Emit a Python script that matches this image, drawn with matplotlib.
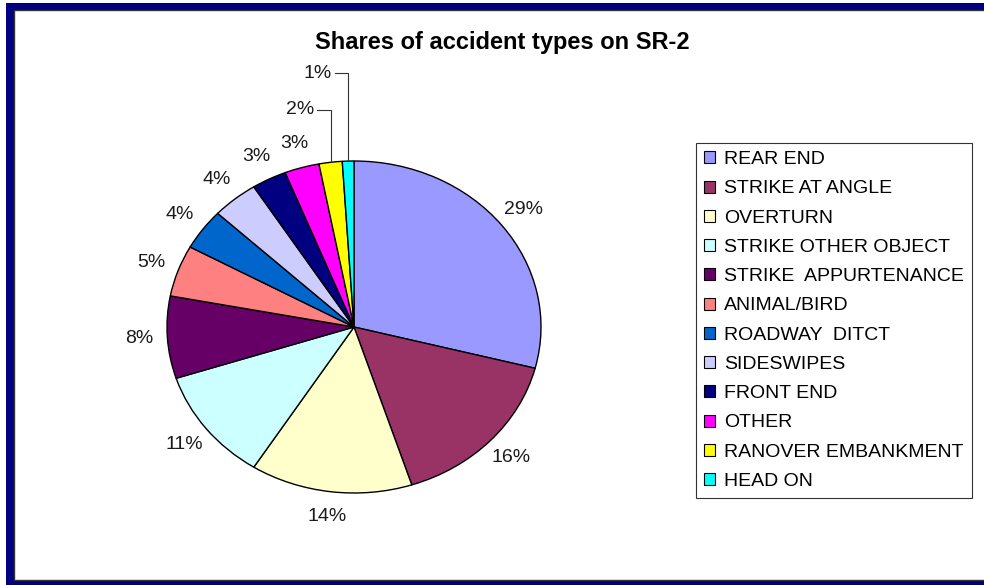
import numpy as np
import matplotlib
matplotlib.use("Agg")
import matplotlib.pyplot as plt
from matplotlib.patches import Rectangle, Patch

plt.rcParams['font.family'] = ['Liberation Sans', 'DejaVu Sans']

categories = ["REAR END", "STRIKE AT ANGLE", "OVERTURN", "STRIKE OTHER OBJECT",
              "STRIKE  APPURTENANCE", "ANIMAL/BIRD", "ROADWAY  DITCT", "SIDESWIPES",
              "FRONT END", "OTHER", "RANOVER EMBANKMENT", "HEAD ON"]
shares = [29, 16, 14, 11, 8, 5, 4, 4, 3, 3, 2, 1]
colors = ["#9999FF", "#993366", "#FFFFCC", "#CCFFFF", "#660066", "#FF8080",
          "#0066CC", "#CCCCFF", "#000080", "#FF00FF", "#FFFF00", "#00FFFF"]
title = "Shares of accident types on SR-2"

W, H = 984, 585
fig = plt.figure(figsize=(W / 100, H / 100), dpi=100)

# navy frame
fig.patches.append(Rectangle((6 / W, -0.1), 1.2, (H - 3) / H + 0.1,
                             transform=fig.transFigure, facecolor="#000080",
                             edgecolor="none", zorder=-3))
fig.patches.append(Rectangle((14 / W, 5 / H), 1.2, (H - 15) / H,
                             transform=fig.transFigure, facecolor="white",
                             edgecolor="#333333", linewidth=1, zorder=-2))

# pie is stretched horizontally (ellipse), center (354,327), rx 187, ry 166
cx, cy, rx, ry = 354, 327, 187, 166
ax = fig.add_axes([(cx - rx) / W, (H - cy - ry) / H, 2 * rx / W, 2 * ry / H])
ax.patch.set_visible(False)
wedges, texts = ax.pie(shares, colors=colors, startangle=90, counterclock=False,
                       labels=[f"{v}%" for v in shares], labeldistance=1.15,
                       wedgeprops=dict(edgecolor="black", linewidth=1.0),
                       textprops=dict(fontsize=14, color="#1a1a1a"))
ax.set_aspect("auto")
ax.set_xlim(-1, 1)
ax.set_ylim(-1, 1)
ax.axis("off")
for t in texts:
    t.set_ha("center")
    t.set_va("center")

# small slices at top: labels lifted up with leader lines
lifted = {10: 1.31, 11: 1.53}
for i, ytxt in lifted.items():
    w = wedges[i]
    th = np.deg2rad((w.theta1 + w.theta2) / 2)
    xe, ye = np.cos(th), np.sin(th)
    texts[i].set_position((xe - 0.085, ytxt))
    texts[i].set_ha("right")
    ax.plot([xe - 0.07, xe, xe], [ytxt, ytxt, ye], color="#333333", lw=0.8,
            clip_on=False)

fig.text(502 / W, 1 - 43 / H, title, ha="center", va="center",
         fontsize=17, fontweight="bold")

handles = [Patch(facecolor=c, edgecolor="black", linewidth=0.8) for c in colors]
leg = fig.legend(handles, categories, loc="upper left",
                 bbox_to_anchor=(696 / W, 1 - 143 / H), fontsize=14,
                 frameon=True, fancybox=False, borderaxespad=0,
                 handlelength=0.58, handleheight=0.58, handletextpad=0.45,
                 labelspacing=0.63, borderpad=0.42)
leg.get_frame().set_edgecolor("black")
leg.get_frame().set_linewidth(0.8)

fig.savefig("out.png", dpi=100)
